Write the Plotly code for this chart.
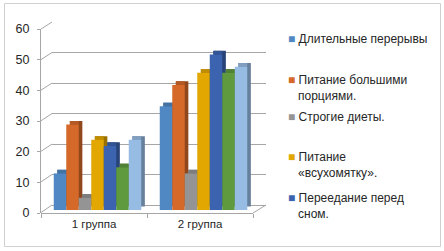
import plotly.graph_objects as go

categories = ["1 группа", "2 группа"]
series_names = ["Длительные перерывы", "Питание большими порциями.", "Строгие диеты.",
                "Питание «всухомятку».", "Переедание перед сном.", "Ряд 6", "Ряд 7"]
legend_labels = ["Длительные перерывы", "Питание большими<br>порциями.", "Строгие диеты.",
                 "Питание<br>«всухомятку».", "Переедание перед<br>сном."]
s1 = [12, 34]
s2 = [28, 41]
s3 = [4, 12]
s4 = [23, 45]
s5 = [21, 51]
s6 = [14, 45]
s7 = [23, 47]
series_values = [s1, s2, s3, s4, s5, s6, s7]
y_ticks = [0, 10, 20, 30, 40, 50, 60]

front_colors = ["#4F88C2", "#D4692A", "#949494", "#E2A700", "#3B63AF", "#5F9A3F", "#97BCE4"]


def shade(hex_color, f):
    h = hex_color.lstrip("#")
    r, g, b = (int(h[i:i + 2], 16) for i in (0, 2, 4))
    return "#%02X%02X%02X" % (int(r * f), int(g * f), int(b * f))


top_colors = [shade(c, 0.85) for c in front_colors]
side_colors = [shade(c, 0.68) for c in front_colors]

W, H = 444, 251
ML, MR, MT, MB = 41, 178, 21, 38
PW, PH = W - ML - MR, H - MT - MB


def px_x(px):
    return (px - ML) / PW


def px_y(py):
    return (H - MB - py) / PH


# geometry (pixels)
CAT_PX = 106.0          # category spacing on front axis
Y_PX = 3.05             # pixels per unit
BAR_ZERO = 210.0        # bars' zero line (mid depth)
BACK_ZERO = 205.0       # back wall zero line
FRONT_LEFT, FRONT_RIGHT = 41, 253
BACK_LEFT, BACK_RIGHT = 52, 266
n = len(series_values)
bar_w = 12.5 / CAT_PX
shift = 3.5 / CAT_PX
dx = 3.6 / CAT_PX
dy = 3.6 / Y_PX

fig = go.Figure()

# side faces
for i, vals in enumerate(series_values):
    off = -n * bar_w / 2 + i * bar_w + shift
    fig.add_trace(go.Bar(x=categories, y=vals, base=[dy] * len(vals), offset=off + dx, width=bar_w,
                         marker=dict(color=side_colors[i], line=dict(width=0)),
                         xaxis="x2", yaxis="y2", showlegend=False, hoverinfo="skip"))
# top faces
for i, vals in enumerate(series_values):
    off = -n * bar_w / 2 + i * bar_w + shift
    fig.add_trace(go.Bar(x=categories, y=[dy] * len(vals), base=vals, offset=off + dx,
                         width=bar_w - dx,
                         marker=dict(color=top_colors[i], line=dict(width=0)),
                         xaxis="x2", yaxis="y2", showlegend=False, hoverinfo="skip"))
# front faces
for i, vals in enumerate(series_values):
    off = -n * bar_w / 2 + i * bar_w + shift
    fig.add_trace(go.Bar(x=categories, y=vals, offset=off, width=bar_w, name=series_names[i],
                         marker=dict(color=front_colors[i], line=dict(width=0)),
                         xaxis="x2", yaxis="y2", showlegend=False))

# dummy traces to create subplots
fig.add_trace(go.Scatter(x=[None], y=[None], xaxis="x", yaxis="y", showlegend=False, hoverinfo="skip"))
fig.add_trace(go.Scatter(x=[None], y=[None], xaxis="x2", yaxis="y3", showlegend=False, hoverinfo="skip"))

# legend entries
legend_tops = [33, 74, 111, 151, 192]
legend_font = dict(family="Liberation Sans, Arial, sans-serif", size=12, color="#262626")
indent = "\u00a0" * 3
layout_legends = {}
for i, lab in enumerate(legend_labels):
    parts = lab.split("<br>")
    txt = "<span style='color:%s'>■</span> " % front_colors[i] + parts[0]
    for p in parts[1:]:
        txt += "<br>" + indent + p
    lname = "legend" if i == 0 else "legend%d" % (i + 1)
    fig.add_trace(go.Scatter(x=[None], y=[None], mode="markers", name=txt,
                             marker=dict(color="rgba(0,0,0,0)", size=1),
                             xaxis="x", yaxis="y", legend=lname, showlegend=True))
    layout_legends[lname] = dict(x=248 / W, y=1 - (legend_tops[i] - 9) / H, xref="container",
                                 yref="container", xanchor="left", yanchor="top",
                                 bgcolor="rgba(0,0,0,0)", font=legend_font,
                                 itemclick=False, itemdoubleclick=False)

axis_color = "#A6A6A6"
shapes = []
for v in y_ticks:
    shapes.append(dict(type="line", xref="paper", yref="paper",
                       x0=px_x(FRONT_LEFT), y0=px_y(212.5 - v * 183.5 / 60),
                       x1=px_x(BACK_LEFT), y1=px_y(BACK_ZERO - v * Y_PX),
                       line=dict(color=axis_color, width=1)))
shapes.append(dict(type="line", xref="paper", yref="paper",
                   x0=px_x(FRONT_RIGHT), y0=px_y(213), x1=px_x(BACK_RIGHT), y1=px_y(BACK_ZERO),
                   line=dict(color=axis_color, width=1)))
shapes.append(dict(type="rect", xref="paper", yref="paper",
                   x0=px_x(4.5), y0=px_y(246.5), x1=px_x(440.5), y1=px_y(3.5),
                   line=dict(color="#D0D0D0", width=1), fillcolor="rgba(0,0,0,0)", layer="below"))

fig.update_layout(
    width=W, height=H,
    margin=dict(l=ML, r=MR, t=MT, b=MB, autoexpand=False),
    paper_bgcolor="white", plot_bgcolor="rgba(0,0,0,0)",
    barmode="overlay",
    font=dict(family="Liberation Sans, Arial, sans-serif", size=11, color="#262626"),
    xaxis=dict(domain=[px_x(BACK_LEFT), px_x(BACK_RIGHT)], range=[0, 1], visible=False, anchor="y"),
    yaxis=dict(domain=[0, 1], anchor="x",
               range=[-(H - MB - BACK_ZERO) / Y_PX, (BACK_ZERO - MT) / Y_PX],
               showgrid=True, gridcolor=axis_color, gridwidth=1, tickvals=y_ticks,
               zeroline=False, showticklabels=False, ticks="", showline=False),
    xaxis2=dict(domain=[px_x(FRONT_LEFT), px_x(FRONT_RIGHT)], anchor="y2", type="category",
                range=[-0.5, 1.5], tickson="boundaries", ticks="outside", ticklen=4,
                tickcolor=axis_color, showline=True, linecolor=axis_color, showgrid=False,
                tickfont=dict(size=11.5, color="#262626")),
    yaxis2=dict(domain=[0, 1], anchor="x2",
                range=[-(H - MB - BAR_ZERO) / Y_PX, (BAR_ZERO - MT) / Y_PX],
                visible=False),
    yaxis3=dict(domain=[0, px_y(29)], anchor="x2", range=[0, 60], tickvals=y_ticks,
                showline=True, linecolor=axis_color, ticks="outside", ticklen=3,
                tickcolor=axis_color, showgrid=False, zeroline=False, ticklabelstandoff=5,
                tickfont=dict(size=12.5, color="#262626")),
    shapes=shapes,
    **layout_legends,
)

fig.write_html("out.html", config={"displayModeBar": False},
               post_script="document.body.style.margin='0';document.body.style.overflow='hidden';")
